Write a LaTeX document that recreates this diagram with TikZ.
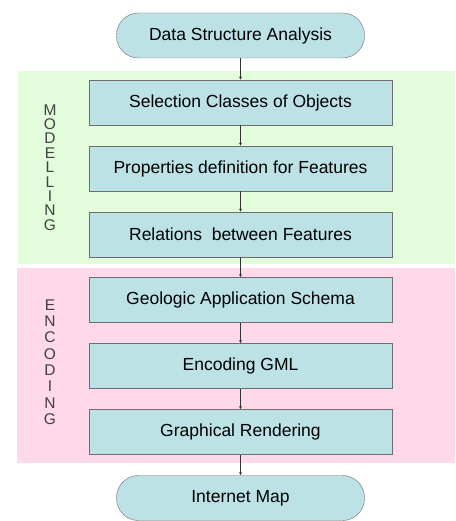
\documentclass[tikz,border=0pt]{standalone}
\usepackage{fontspec}
\setmainfont{Liberation Sans}
\usetikzlibrary{arrows.meta}
\definecolor{boxfill}{RGB}{188,226,230}
\definecolor{boxline}{RGB}{110,110,110}
\definecolor{greenbg}{RGB}{226,252,220}
\definecolor{pinkbg}{RGB}{255,216,234}

\begin{document}
\begin{tikzpicture}[x=1pt,y=-1pt,
  proc/.style={draw=boxline,fill=boxfill,minimum width=303pt,minimum height=45pt,inner sep=0pt,font=\fontsize{17.5}{19}\selectfont},
  term/.style={proc,rounded corners=22pt,minimum width=248pt},
  side/.style={align=center,text=black!75,font=\fontsize{15.5}{14.4}\selectfont},
  flow/.style={-{Latex[length=3pt,width=3pt]},draw=black!80,line width=0.8pt}]
\useasboundingbox (0,0) rectangle (455,521);
%\draw[red] (0,0) rectangle (455,521);
\fill[greenbg] (18,71) rectangle (455,264);
\fill[pinkbg] (17,268) rectangle (455,463);
\path
(240.5,35.5) node[term] (dsa) {Data Structure Analysis}
(240.5,102.5) node[proc] (sel) {Selection Classes of Objects}
(240.5,168.5) node[proc] (prop) {Properties definition for Features}
(240.5,234.5) node[proc] (rel) {Relations\ \ between Features}
(240.5,300) node[proc] (geo) {Geologic Application Schema}
(240.5,366) node[proc] (gml) {Encoding GML}
(240.5,432) node[proc] (rend) {Graphical Rendering}
(240.5,498) node[term] (map) {Internet Map}
(50,167.5) node[side] (modl) {M\\O\\D\\E\\L\\L\\I\\N\\G}
(50,362) node[side,font=\fontsize{15.5}{16.3}\selectfont] (encl) {E\\N\\C\\O\\D\\I\\N\\G};
\draw[flow] (dsa) -- (sel);
\draw[flow] (sel) -- (prop);
\draw[flow] (prop) -- (rel);
\draw[flow] (rel) -- (geo);
\draw[flow] (geo) -- (gml);
\draw[flow] (gml) -- (rend);
\draw[flow] (rend) -- (map);
\end{tikzpicture}
\end{document}
